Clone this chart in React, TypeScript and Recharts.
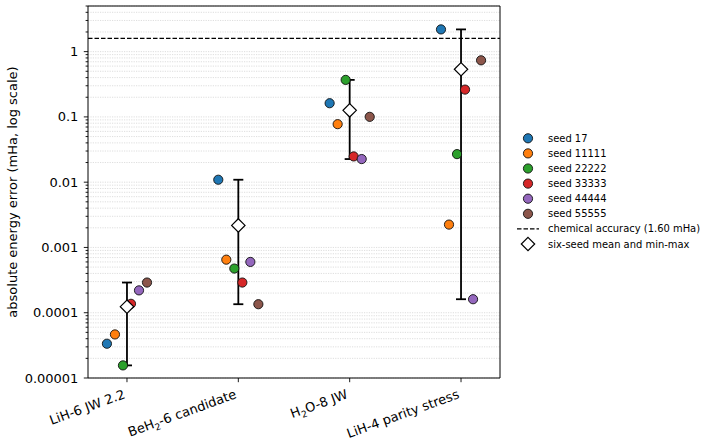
import React from "react";
import {
  ScatterChart,
  Scatter,
  XAxis,
  YAxis,
  CartesianGrid,
  ReferenceLine,
  ErrorBar,
} from "recharts";

// x labels; "_2" marks a subscript digit
const categories = [
  "LiH-6 JW 2.2",
  "BeH_2-6 candidate",
  "H_2O-8 JW",
  "LiH-4 parity stress",
];

const seedNames = ["seed 17", "seed 11111", "seed 22222", "seed 33333", "seed 44444", "seed 55555"];
const seedColors = ["#1f77b4", "#ff7f0e", "#2ca02c", "#d62728", "#9467bd", "#8c564b"];
const seedOffsets = [-0.18, -0.108, -0.036, 0.036, 0.108, 0.18];

// absolute energy error (mHa), one value per category
const seed17 = [3.35e-5, 0.0109, 0.162, 2.19];
const seed11111 = [4.65e-5, 6.5e-4, 0.0774, 2.24e-3];
const seed22222 = [1.56e-5, 4.75e-4, 0.369, 0.0269];
const seed33333 = [1.37e-4, 2.9e-4, 0.0248, 0.262];
const seed44444 = [2.2e-4, 6.0e-4, 0.0226, 1.61e-4];
const seed55555 = [2.9e-4, 1.35e-4, 0.1002, 0.736];
const seedValues = [seed17, seed11111, seed22222, seed33333, seed44444, seed55555];

const chemicalAccuracy = 1.6;

const majorTicks = [0.00001, 0.0001, 0.001, 0.01, 0.1, 1];
const majorLabels = ["0.00001", "0.0001", "0.001", "0.01", "0.1", "1"];
const yDomain = [1e-5, 5];
const xDomain = [-0.35, 3.35];

const minorTicks: number[] = [];
majorTicks.forEach((m) => {
  for (let k = 2; k <= 9; k++) {
    const v = Number((m * k).toPrecision(3));
    if (v <= yDomain[1]) minorTicks.push(v);
  }
});
const yTicks = [...majorTicks, ...minorTicks].sort((a, b) => a - b);

const seedSeries = seedValues.map((vals, s) =>
  vals.map((v, i) => ({ x: i + seedOffsets[s], y: v }))
);

const summary = categories.map((_, i) => {
  const vals = seedValues.map((sv) => sv[i]);
  const mean = vals.reduce((a, b) => a + b, 0) / vals.length;
  const lo = Math.min(...vals);
  const hi = Math.max(...vals);
  return { x: i, y: mean, err: [mean - lo, hi - mean] };
});

const FONT = "'DejaVu Sans', sans-serif";
const FS = 13;
const LEGEND_FS = 9.95;

function renderLabel(label: string, size: number) {
  const parts = label.split(/_(\d)/);
  return parts.map((p, i) =>
    i % 2 === 1 ? (
      <tspan key={i} fontSize={size * 0.7} dy={size * 0.25}>
        {p}
      </tspan>
    ) : (
      <tspan key={i} fontSize={size} dy={i > 0 ? -size * 0.25 : 0}>
        {p}
      </tspan>
    )
  );
}

function XTick({ x, y, payload }: any) {
  const label = categories[payload.value];
  if (label === undefined) return null;
  return (
    <g transform={`translate(${x - 1},${y + 11.4})`}>
      <text transform="rotate(-20)" textAnchor="end" fill="#000" fontFamily={FONT}>
        {renderLabel(label, FS)}
      </text>
    </g>
  );
}

function YTick({ x, y, payload }: any) {
  const idx = majorTicks.indexOf(payload.value);
  const major = idx >= 0;
  return (
    <g>
      <line x1={x - (major ? 4.2 : 2.4)} x2={x} y1={y} y2={y} stroke="#000" strokeWidth={0.9} />
      {major && (
        <text
          x={x - 9.6}
          y={y}
          textAnchor="end"
          dominantBaseline="central"
          fontSize={FS}
          fontFamily={FONT}
          fill="#000"
        >
          {majorLabels[idx]}
        </text>
      )}
    </g>
  );
}

function YLabel({ viewBox }: any) {
  const cx = viewBox.x + 12;
  const cy = viewBox.y + viewBox.height / 2;
  return (
    <text
      x={cx}
      y={cy}
      transform={`rotate(-90 ${cx} ${cy})`}
      textAnchor="middle"
      dominantBaseline="central"
      fontSize={FS}
      fontFamily={FONT}
      fill="#000"
    >
      absolute energy error (mHa, log scale)
    </text>
  );
}

const dot = (color: string) => (props: any) =>
  <circle cx={props.cx} cy={props.cy} r={4.6} fill={color} stroke="#111" strokeWidth={0.9} />;

const diamond = (props: any) => {
  const { cx, cy } = props;
  const d = 6.7;
  return (
    <polygon
      points={`${cx},${cy - d} ${cx + d},${cy} ${cx},${cy + d} ${cx - d},${cy}`}
      fill="#fff"
      stroke="#000"
      strokeWidth={1.2}
    />
  );
};

function Legend() {
  const x0 = 528;
  const y0 = 138.3;
  const step = 15.1;
  const tx = 548;
  return (
    <svg
      width={714}
      height={442}
      style={{ position: "absolute", left: 0, top: 0, pointerEvents: "none" }}
    >
      {seedNames.map((n, i) => (
        <g key={n}>
          <circle cx={x0} cy={y0 + i * step} r={4.6} fill={seedColors[i]} stroke="#111" strokeWidth={0.9} />
          <text x={tx} y={y0 + i * step} dominantBaseline="central" fontSize={LEGEND_FS} fontFamily={FONT}>
            {n}
          </text>
        </g>
      ))}
      <line
        x1={517}
        x2={539}
        y1={y0 + 6 * step}
        y2={y0 + 6 * step}
        stroke="#000"
        strokeWidth={1.2}
        strokeDasharray="4.5 2"
      />
      <text x={tx} y={y0 + 6 * step} dominantBaseline="central" fontSize={LEGEND_FS} fontFamily={FONT}>
        chemical accuracy (1.60 mHa)
      </text>
      <line x1={x0} x2={x0} y1={y0 + 7 * step - 6} y2={y0 + 7 * step + 6} stroke="#000" strokeWidth={1.8} />
      {diamond({ cx: x0, cy: y0 + 7 * step })}
      <text x={tx} y={y0 + 7 * step} dominantBaseline="central" fontSize={LEGEND_FS} fontFamily={FONT}>
        six-seed mean and min-max
      </text>
    </svg>
  );
}

export default function App() {
  return (
    <div style={{ position: "absolute", left: 0, top: 0, width: 714, height: 442, background: "#fff" }}>
      <ScatterChart width={714} height={442} margin={{ top: 6, right: 214, bottom: 0, left: 0 }}>
        <CartesianGrid
          horizontal
          vertical={false}
          stroke="#d6d6d6"
          strokeWidth={0.8}
          strokeDasharray="1.2 1.2"
        />
        <XAxis
          type="number"
          dataKey="x"
          domain={xDomain}
          ticks={[0, 1, 2, 3]}
          interval={0}
          height={64}
          tick={<XTick />}
          tickSize={4.2}
          tickMargin={4.2}
          tickLine={{ stroke: "#000", strokeWidth: 0.9 }}
          axisLine={{ stroke: "#000", strokeWidth: 1 }}
          allowDataOverflow
        />
        <YAxis
          type="number"
          dataKey="y"
          scale="log"
          domain={yDomain}
          ticks={yTicks}
          interval={0}
          width={88}
          tick={<YTick />}
          tickSize={0}
          tickMargin={0}
          tickLine={false}
          axisLine={{ stroke: "#000", strokeWidth: 1 }}
          allowDataOverflow
          label={<YLabel />}
        />
        {/* top and right spines */}
        <ReferenceLine y={yDomain[1]} stroke="#000" strokeWidth={1} />
        <ReferenceLine x={xDomain[1]} stroke="#000" strokeWidth={1} />
        <ReferenceLine y={chemicalAccuracy} stroke="#000" strokeWidth={1.2} strokeDasharray="4.5 2" />
        <Scatter data={summary} shape={() => null} isAnimationActive={false}>
          <ErrorBar dataKey="err" direction="y" width={5} stroke="#000" strokeWidth={1.8} />
        </Scatter>
        {seedSeries.map((data, s) => (
          <Scatter
            key={seedNames[s]}
            name={seedNames[s]}
            data={data}
            shape={dot(seedColors[s])}
            isAnimationActive={false}
          />
        ))}
        <Scatter data={summary} shape={diamond} isAnimationActive={false} />
      </ScatterChart>
      <Legend />
    </div>
  );
}
